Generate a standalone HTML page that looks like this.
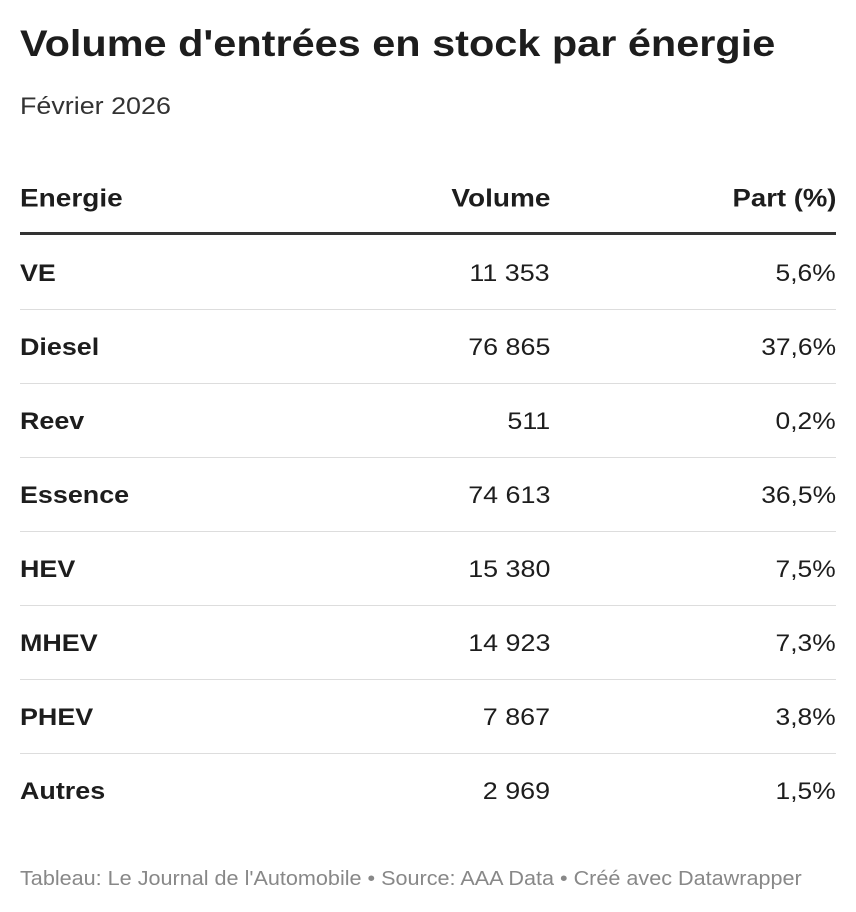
<!DOCTYPE html>
<html><head><meta charset="utf-8"><style>
body{margin:0;width:856px;height:912px;background:#fff;font-family:"Liberation Sans",Arial,sans-serif;color:#1d1d1d;position:relative;overflow:hidden}
.t{position:absolute;left:20px;top:23px;font-size:37px;font-weight:bold;transform:scaleX(1.12);transform-origin:left}
.s{position:absolute;left:20px;top:93px;font-size:24px;color:#333;transform:scaleX(1.12);transform-origin:left}
.row{position:absolute;left:20px;width:816px;height:74px;font-size:24px}
.row span{position:absolute;top:calc(50% + 2px)}
.a{left:0;font-weight:bold;transform:translateY(-50%) scaleX(1.12);transform-origin:left}
.b{right:286px;transform:translateY(-50%) scaleX(1.12);transform-origin:right}
.c{right:0;transform:translateY(-50%) scaleX(1.1);transform-origin:right}
.h{font-weight:bold;font-size:25px}
.sep{border-bottom:1px solid #ddd}
.f{position:absolute;left:20px;top:868px;font-size:20px;color:#888;transform:scaleX(1.08);transform-origin:left}
</style></head><body>
<div class="t">Volume d'entrées en stock par énergie</div>
<div class="s">Février 2026</div>
<div class="row h" style="top:162px;height:70px;border-bottom:3px solid #333"><span class="a">Energie</span><span class="b">Volume</span><span class="c">Part (%)</span></div>
<div class="row sep" style="top:235px"><span class="a">VE</span><span class="b">11 353</span><span class="c">5,6%</span></div>
<div class="row sep" style="top:309px"><span class="a">Diesel</span><span class="b">76 865</span><span class="c">37,6%</span></div>
<div class="row sep" style="top:383px"><span class="a">Reev</span><span class="b">511</span><span class="c">0,2%</span></div>
<div class="row sep" style="top:457px"><span class="a">Essence</span><span class="b">74 613</span><span class="c">36,5%</span></div>
<div class="row sep" style="top:531px"><span class="a">HEV</span><span class="b">15 380</span><span class="c">7,5%</span></div>
<div class="row sep" style="top:605px"><span class="a">MHEV</span><span class="b">14 923</span><span class="c">7,3%</span></div>
<div class="row sep" style="top:679px"><span class="a">PHEV</span><span class="b">7 867</span><span class="c">3,8%</span></div>
<div class="row" style="top:753px"><span class="a">Autres</span><span class="b">2 969</span><span class="c">1,5%</span></div>
<div class="f">Tableau: Le Journal de l'Automobile • Source: AAA Data • Créé avec Datawrapper</div>
</body></html>
